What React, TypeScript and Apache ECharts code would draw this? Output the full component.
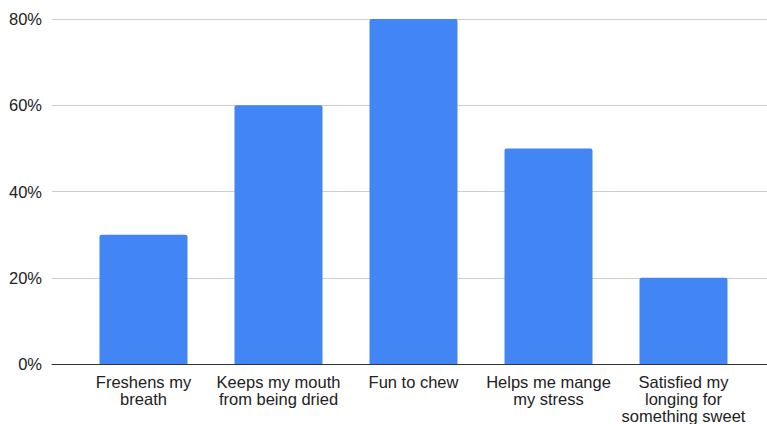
import React, { useEffect, useRef } from "react";
import * as echarts from "echarts";

const categories = [
  "Freshens my\nbreath",
  "Keeps my mouth\nfrom being dried",
  "Fun to chew",
  "Helps me mange\nmy stress",
  "Satisfied my\nlonging for\nsomething sweet",
];
const values = [30, 60, 80, 50, 20];
const yTicks = { min: 0, max: 80, interval: 20 };

export default function App() {
  const ref = useRef<HTMLDivElement>(null);
  useEffect(() => {
    const chart = echarts.init(ref.current!, null, { renderer: "svg" });
    const font = "'Liberation Sans', Arial, sans-serif";
    chart.setOption({
      animation: false,
      grid: [
        { left: 52, right: 0, top: 19, bottom: 60, containLabel: false },
        { left: 76, right: 16, top: 19, bottom: 60, containLabel: false },
      ],
      xAxis: [
        {
          type: "category",
          gridIndex: 0,
          data: [""],
          axisLine: { show: true, lineStyle: { color: "#333", width: 1 } },
          axisTick: { show: false },
          axisLabel: { show: false },
          splitLine: { show: false },
        },
        {
          type: "category",
          gridIndex: 1,
          data: categories,
          axisLine: { show: false },
          axisTick: { show: false },
          axisLabel: {
            interval: 0,
            color: "#222",
            fontSize: 16.5,
            fontFamily: font,
            lineHeight: 17,
            margin: 9,
            align: "center",
          },
        },
      ],
      yAxis: [
        {
          type: "value",
          gridIndex: 0,
          min: yTicks.min,
          max: yTicks.max,
          interval: yTicks.interval,
          axisLine: { show: false },
          axisTick: { show: false },
          axisLabel: {
            formatter: "{value}%",
            color: "#222",
            fontSize: 16.5,
            fontFamily: font,
            margin: 10,
          },
          splitLine: { lineStyle: { color: "#cccccc", width: 1 } },
        },
        {
          type: "value",
          gridIndex: 1,
          min: yTicks.min,
          max: yTicks.max,
          interval: yTicks.interval,
          show: false,
          splitLine: { show: false },
        },
      ],
      series: [
        {
          type: "bar",
          xAxisIndex: 1,
          yAxisIndex: 1,
          data: values,
          barWidth: 88,
          itemStyle: { color: "#4285F4", borderRadius: [2, 2, 0, 0] },
        },
      ],
    });
    return () => chart.dispose();
  }, []);
  return <div ref={ref} style={{ width: 767, height: 424, position: "absolute", left: 0, top: 0 }} />;
}
